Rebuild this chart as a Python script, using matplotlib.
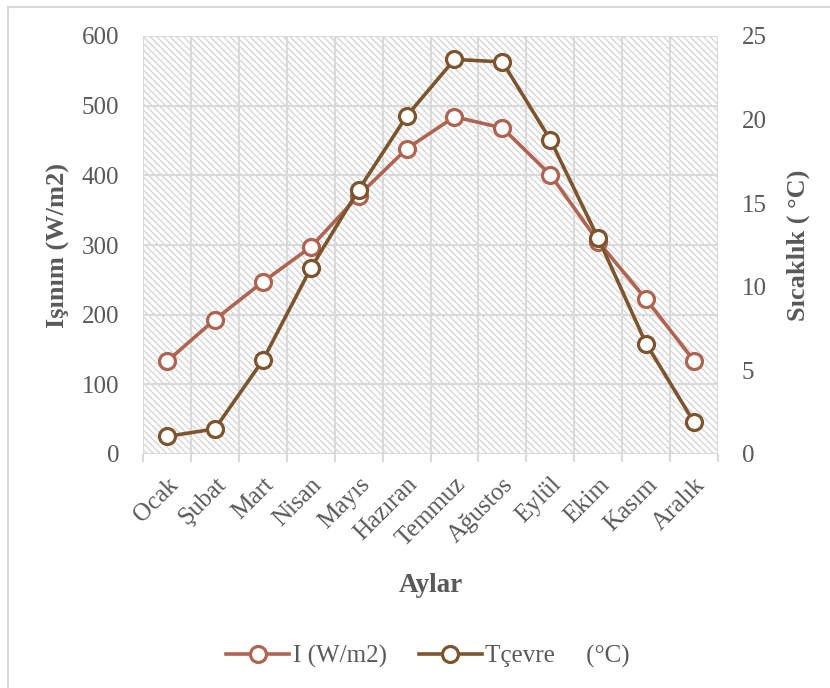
import matplotlib
matplotlib.use("Agg")
import matplotlib.pyplot as plt
import numpy as np
from matplotlib.lines import Line2D
from matplotlib.patches import Rectangle
from matplotlib.transforms import ScaledTranslation

plt.rcParams["font.family"] = ["Liberation Serif", "DejaVu Serif"]
plt.rcParams["hatch.linewidth"] = 1.0

# data
months = ["Ocak", "Şubat", "Mart", "Nisan", "Mayıs", "Hazıran",
          "Temmuz", "Ağustos", "Eylül", "Ekim", "Kasım", "Aralık"]
irradiance = [133, 193, 247, 297, 371, 438, 484, 468, 401, 305, 222, 134]
temperature = [1.05, 1.5, 5.6, 11.1, 15.8, 20.2, 23.6, 23.45, 18.8, 12.9, 6.6, 1.9]
left_ticks = [0, 100, 200, 300, 400, 500, 600]
right_ticks = [0, 5, 10, 15, 20, 25]

c_i = "#AE6450"
c_t = "#7C542E"
grey = "#595959"
gridc = "#d9d9d9"

fig = plt.figure(figsize=(8.3, 6.88), dpi=100)
ax = fig.add_axes([143 / 830, 1 - 454 / 688, 575 / 830, 418 / 688])
ax2 = ax.twinx()

x = np.arange(len(months))

# hatched plot background
ax.add_patch(Rectangle((0, 0), 1, 1, transform=ax.transAxes, facecolor="white",
                       edgecolor="#d6d6d6", hatch="\\" * 5, lw=0, zorder=0))

l1, = ax.plot(x, irradiance, color=c_i, lw=2.6, marker="o", ms=11.5,
              mfc="white", mec=c_i, mew=2.3, zorder=3, label="I (W/m2)")
l2, = ax2.plot(x, temperature, color=c_t, lw=2.6, marker="o", ms=11.5,
               mfc="white", mec=c_t, mew=2.3, zorder=3, label="Tçevre     (°C)")

ax.set_xlim(-0.5, len(months) - 0.5)
ax.set_ylim(0, 600)
ax2.set_ylim(0, 25)
ax.set_yticks(left_ticks)
ax2.set_yticks(right_ticks)

# grid lines sit on category boundaries, labels at centres
ax.set_xticks(np.arange(-0.5, len(months), 1))
ax.set_xticklabels([])
ax.set_xticks(x, minor=True)
ax.set_xticklabels(months, minor=True, rotation=45, ha="right",
                   rotation_mode="anchor", fontsize=18, color=grey)
shift = ScaledTranslation(-3 / 100, 0, fig.dpi_scale_trans)
for lab in ax.get_xticklabels(minor=True):
    lab.set_transform(lab.get_transform() + shift)
ax.tick_params(axis="x", which="major", length=6, color=gridc, width=1.5)
ax.tick_params(axis="x", which="minor", length=0, pad=14)
ax.tick_params(axis="y", length=0, pad=17, labelsize=18, labelcolor=grey)
ax2.tick_params(axis="y", length=0, pad=17, labelsize=18, labelcolor=grey)

ax.grid(True, which="major", color=gridc, lw=1.5, zorder=1)
for a in (ax, ax2):
    for s in a.spines.values():
        s.set_visible(False)

ax.set_ylabel("Işınım (W/m2)", fontsize=19, fontweight="bold", color=grey)
ax.yaxis.set_label_coords(-0.127, 0.5)
ax2.set_ylabel("Sıcaklık ( °C)", fontsize=19, fontweight="bold", color=grey,
               rotation=90)
ax2.yaxis.set_label_coords(1.12, 0.5)
ax.set_xlabel("Aylar", fontsize=19.5, fontweight="bold", color=grey)
ax.xaxis.set_label_coords(0.5, -0.285)

leg = fig.legend(handles=[l1, l2], loc="center", bbox_to_anchor=(0.516, 0.046),
                 ncol=2, frameon=False, fontsize=18, handlelength=2.5,
                 handletextpad=0.15, columnspacing=1.3)
for t in leg.get_texts():
    t.set_color(grey)

# outer chart border (left and top visible in the crop)
fig.add_artist(Line2D([8 / 830, 8 / 830], [0, 1 - 7 / 688], transform=fig.transFigure,
                      color=gridc, lw=1.5))
fig.add_artist(Line2D([8 / 830, 1], [1 - 7 / 688, 1 - 7 / 688], transform=fig.transFigure,
                      color=gridc, lw=1.5))

fig.savefig("out.png", dpi=100)
